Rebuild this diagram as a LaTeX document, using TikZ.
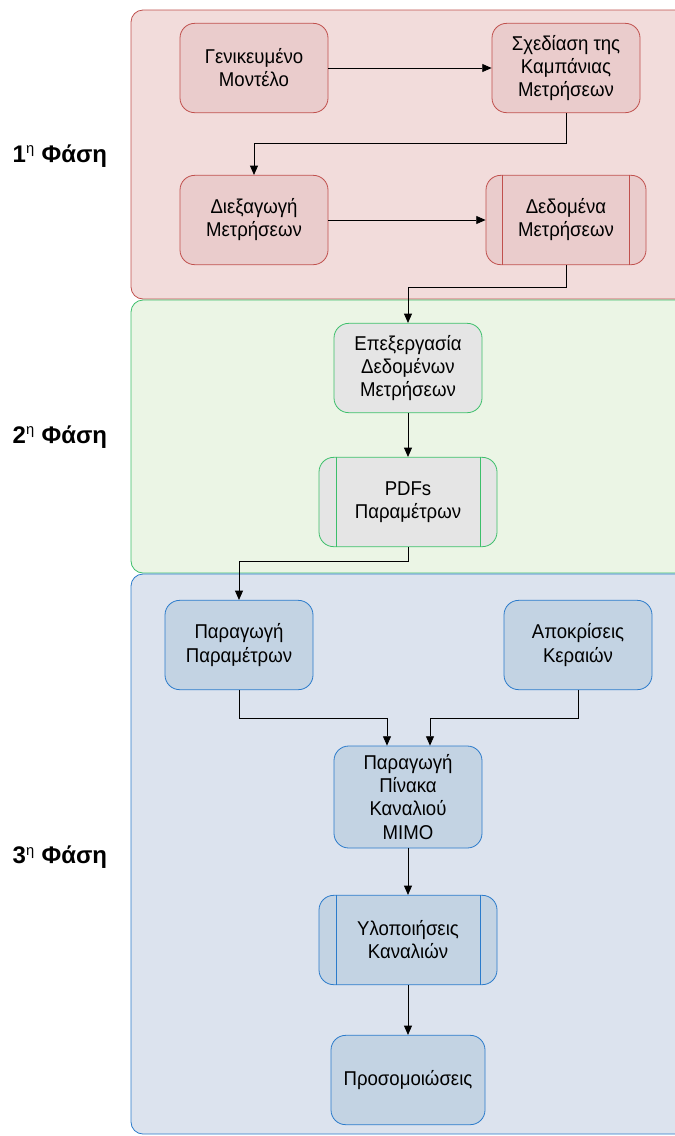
\documentclass[tikz,border=0pt]{standalone}
\usepackage{fontspec}
\setmainfont{Liberation Sans}
\newfontfamily\boxfont[FakeStretch=0.93]{Liberation Sans}
\usetikzlibrary{arrows.meta,calc}

\definecolor{redfill}{HTML}{F2DCDB}
\definecolor{redline}{HTML}{C0504D}
\definecolor{rednode}{HTML}{EACCCC}
\definecolor{greenfill}{HTML}{EBF5E5}
\definecolor{greenline}{HTML}{3DBF6B}
\definecolor{greennode}{HTML}{E5E5E5}
\definecolor{bluefill}{HTML}{DCE3EE}
\definecolor{blueline}{HTML}{2B7BCB}
\definecolor{bluenode}{HTML}{C3D3E3}

\tikzset{
  phasebox/.style={rounded corners=9pt, line width=0.6pt},
  box/.style={rounded corners=11pt, line width=0.6pt, align=center,
    minimum width=111pt, minimum height=67pt, inner sep=1pt,
    font=\boxfont\fontsize{15}{17.3}\selectfont},
  redbox/.style={box, draw=redline, fill=rednode},
  greenbox/.style={box, draw=greenline, fill=greennode},
  bluebox/.style={box, draw=blueline, fill=bluenode},
  arr/.style={-{Triangle[length=7pt,width=6pt]}, line width=0.6pt, black},
  phaselabel/.style={font=\fontsize{18}{20}\selectfont\bfseries, anchor=west}
}

% vertical side bars of a process box
\newcommand{\sidebars}[3]{%
  \draw[#3, line width=0.6pt] ([xshift=#2]#1.north west) -- ([xshift=#2]#1.south west);
  \draw[#3, line width=0.6pt] ([xshift=-#2]#1.north east) -- ([xshift=-#2]#1.south east);
}

\begin{document}
\begin{tikzpicture}[x=0.75pt,y=-0.75pt]
\clip (0,0) rectangle (675,1136);
\fill[white] (0,0) rectangle (675,1136);

% phase containers
\draw[phasebox, draw=redline, fill=redfill] (131,10) rectangle (700,299);
\draw[phasebox, draw=greenline, fill=greenfill] (131,300) rectangle (700,573);
\draw[phasebox, draw=blueline, fill=bluefill] (131,574) rectangle (700,1134);

% phase titles
\node[phaselabel] (ph1) at (8,156) {1\textsuperscript{\mdseries\fontsize{11}{11}\selectfont η} Φάση};
\node[phaselabel] (ph2) at (8,437) {2\textsuperscript{\mdseries\fontsize{11}{11}\selectfont η} Φάση};
\node[phaselabel] (ph3) at (8,857) {3\textsuperscript{\mdseries\fontsize{11}{11}\selectfont η} Φάση};

% phase 1
\node[redbox] (gen) at (254,68) {Γενικευμένο\\Μοντέλο};
\node[redbox] (sched) at (566,68) {Σχεδίαση της\\Καμπάνιας\\Μετρήσεων};
\node[redbox] (dieks) at (254,220) {Διεξαγωγή\\Μετρήσεων};
\node[redbox, minimum width=120pt] (data) at (566,220) {Δεδομένα\\Μετρήσεων};
\sidebars{data}{12.75pt}{redline}

% phase 2
\node[greenbox] (proc) at (408,368) {Επεξεργασία\\Δεδομένων\\Μετρήσεων};
\node[greenbox, minimum width=133.5pt] (pdfs) at (408,502) {PDFs\\Παραμέτρων};
\sidebars{pdfs}{13pt}{greenline}

% phase 3
\node[bluebox] (pgen) at (239,645) {Παραγωγή\\Παραμέτρων};
\node[bluebox] (ant) at (578,645) {Αποκρίσεις\\Κεραιών};
\node[bluebox, minimum height=76.5pt] (mimo) at (408,797) {Παραγωγή\\Πίνακα\\Καναλιού\\MIMO};
\node[bluebox, minimum width=133.5pt] (real) at (408,940) {Υλοποιήσεις\\Καναλιών};
\sidebars{real}{13pt}{blueline}
\node[bluebox, minimum width=115.5pt] (sim) at (408,1080) {Προσομοιώσεις};

% connectors
\draw[arr] (gen.east) -- (sched.west);
\draw[arr] (sched.south) -- ++(0,30) -| (dieks.north);
\draw[arr] (dieks.east) -- (data.west);
\draw[arr] (data.south) -- ++(0,22) -| (proc.north);
\draw[arr] (proc.south) -- (pdfs.north);
\draw[arr] (pdfs.south) -- ++(0,14) -| (pgen.north);
\draw[arr] (pgen.south) -- ++(0,28) -| ($(mimo.north)+(-21,0)$);
\draw[arr] (ant.south) -- ++(0,28) -| ($(mimo.north)+(22,0)$);
\draw[arr] (mimo.south) -- (real.north);
\draw[arr] (real.south) -- (sim.north);
\end{tikzpicture}
\end{document}
